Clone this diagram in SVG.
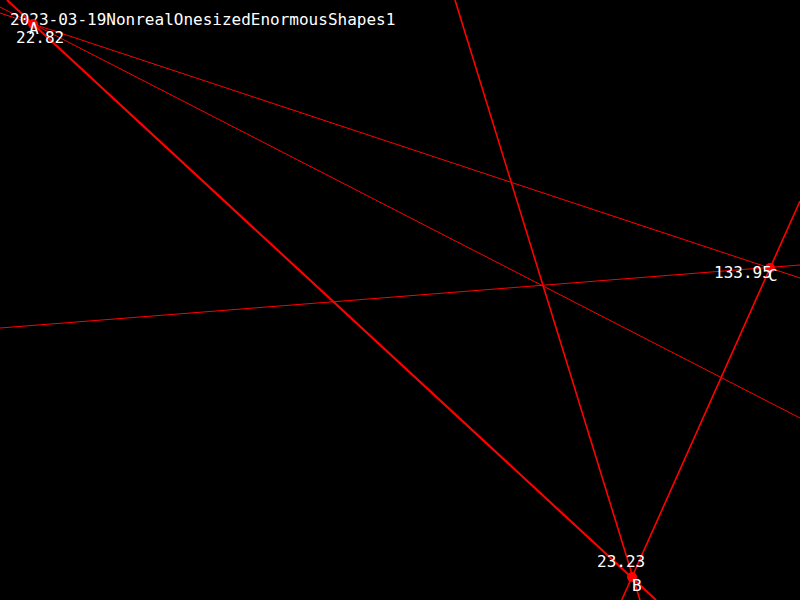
<svg xmlns="http://www.w3.org/2000/svg" width="800" height="600" viewBox="0 0 800 600">
<style>
.ln{stroke:#ff0000;fill:none}
.side{stroke-width:1.6}
.thick{stroke-width:2.1}
.cev{stroke-width:1}
.pt{fill:#ff0000}
text{font-family:"DejaVu Sans Mono","Liberation Mono",monospace;font-size:16px;fill:#ffffff}
</style>
<rect x="0" y="0" width="800" height="600" fill="#000000"/>
<g id="connectors">
<line class="ln thick" x1="7" y1="0" x2="656" y2="600"/>
<line class="ln cev" x1="0" y1="13" x2="800" y2="278"/>
<line class="ln cev" x1="0" y1="7" x2="800" y2="418"/>
<line class="ln side" x1="455" y1="0" x2="640" y2="600"/>
<line class="ln cev" x1="0" y1="328" x2="800" y2="265"/>
<line class="ln side" x1="621.7" y1="600" x2="800" y2="201"/>
</g>
<text x="10" y="25">2023-03-19NonrealOnesizedEnormousShapes1</text>
<g id="A">
<circle class="pt" cx="33" cy="24" r="5"/>
<text x="29" y="34">A</text>
<text x="16" y="43">22.82</text>
</g>
<g id="B">
<circle class="pt" cx="632" cy="577" r="5"/>
<text x="632" y="591">B</text>
<text x="597" y="567">23.23</text>
</g>
<g id="C">
<circle class="pt" cx="770" cy="268" r="5"/>
<text x="768" y="281">C</text>
<text x="714" y="278">133.95</text>
</g>
</svg>
